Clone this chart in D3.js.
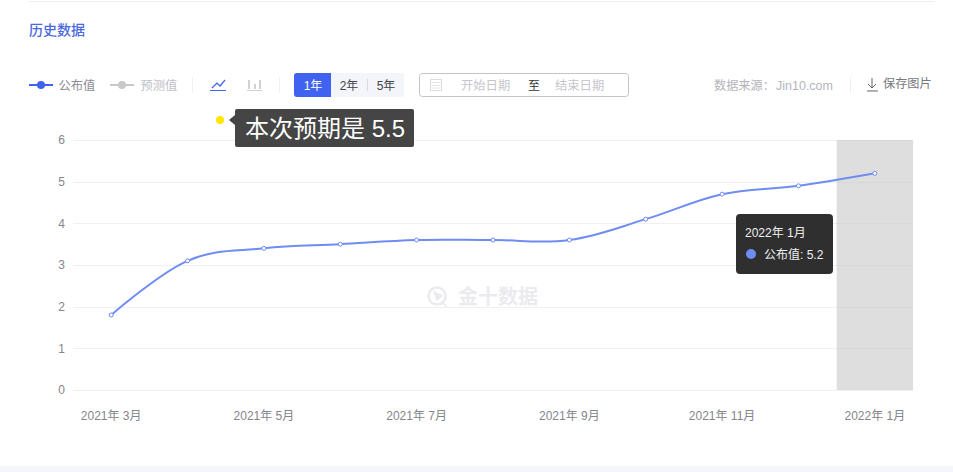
<!DOCTYPE html>
<html><head><meta charset="utf-8">
<script src="https://cdn.jsdelivr.net/npm/d3@7/dist/d3.min.js"></script>
<style>
html,body{margin:0;padding:0;background:#fff;overflow:hidden}
svg{display:block}
text{font-family:"Liberation Sans","Noto Sans CJK SC",sans-serif}
</style></head><body>
<svg id="c" width="953" height="472"></svg>
<script>
const months=["2021年 3月","2021年 4月","2021年 5月","2021年 6月","2021年 7月","2021年 8月","2021年 9月","2021年 10月","2021年 11月","2021年 12月","2022年 1月"];
const published=[1.8,3.1,3.4,3.5,3.6,3.6,3.6,4.1,4.7,4.9,5.2];
const yTicks=[0,1,2,3,4,5,6];
const xTickLabels=["2021年 3月","2021年 5月","2021年 7月","2021年 9月","2021年 11月","2022年 1月"];
const rangeButtons=["1年","2年","5年"];
const legendNames=["公布值","预测值"];

const svg=d3.select("#c");
const x=d3.scaleBand().domain(months).range([73,913]);
const y=d3.scaleLinear().domain([0,6]).range([390,140]);
const cx=m=>x(m)+x.bandwidth()/2;
const blue="#3f63f0", line="#6f8cf2";

function T(px,py,s,size,fill,anchor,extra){
  const t=svg.append("text").attr("x",px).attr("y",py).attr("font-size",size).attr("fill",fill).attr("text-anchor",anchor||"start").text(s);
  if(extra) t.attr("font-weight",extra);
  return t;
}
// page frame
svg.append("rect").attr("x",28).attr("y",1).attr("width",907).attr("height",1).attr("fill","#f0f0f2");
svg.append("rect").attr("x",0).attr("y",466).attr("width",953).attr("height",6).attr("fill","#f5f6fb");
T(29,35,"历史数据",14,"#4a68e0",null,500);

// legend
svg.append("line").attr("x1",29).attr("x2",53).attr("y1",85).attr("y2",85).attr("stroke",blue).attr("stroke-width",2);
svg.append("circle").attr("cx",41).attr("cy",85).attr("r",4).attr("fill",blue);
T(58.5,90,legendNames[0],12.3,"#8c8c94");
svg.append("line").attr("x1",110).attr("x2",134).attr("y1",85).attr("y2",85).attr("stroke","#c8c8c8").attr("stroke-width",2);
svg.append("circle").attr("cx",122).attr("cy",85).attr("r",4).attr("fill","#c8c8c8");
T(140.5,90,legendNames[1],12.3,"#c0c0c6");
[192,279,850].forEach(px=>svg.append("rect").attr("x",px).attr("y",77).attr("width",1).attr("height",16).attr("fill","#f0f0f2"));

// line / bar toggle icons
svg.append("path").attr("d","M212 88 L217 83 L220 86 L225 80").attr("fill","none").attr("stroke",blue).attr("stroke-width",1.2);
svg.append("rect").attr("x",210).attr("y",90).attr("width",16).attr("height",1).attr("fill",blue);
[[248,9],[254,5],[259,9]].forEach(d=>svg.append("rect").attr("x",d[0]).attr("y",89-d[1]).attr("width",2).attr("height",d[1]).attr("fill","#d0d2d8"));
svg.append("rect").attr("x",247).attr("y",90).attr("width",15).attr("height",1).attr("fill","#d0d2d8");

// range buttons
svg.append("rect").attr("x",294).attr("y",73).attr("width",110).attr("height",24).attr("rx",3).attr("fill","#f3f5fa");
svg.append("path").attr("d","M331 73 H297 a3 3 0 0 0 -3 3 V94 a3 3 0 0 0 3 3 H331 Z").attr("fill",blue);
[[313,"#fff"],[349,"#44444c"],[386,"#44444c"]].forEach((d,i)=>T(d[0],90,rangeButtons[i],12,d[1],"middle"));
svg.append("rect").attr("x",367).attr("y",79).attr("width",1).attr("height",12).attr("fill","#d8dae2");

// date box
svg.append("rect").attr("x",419.5).attr("y",73.5).attr("width",209).attr("height",23).attr("rx",3).attr("fill","#fff").attr("stroke","#c4c4c8");
svg.append("rect").attr("x",430.5).attr("y",79.5).attr("width",11).attr("height",11).attr("fill","none").attr("stroke","#dcdce0");
svg.append("path").attr("d","M430 82.5 H442 M432 85.5 H440 M432 88 H440").attr("stroke","#e4e4e8").attr("fill","none");
T(461,90,"开始日期",12.3,"#c6c6cc");
T(528,90,"至",12,"#333");
T(555,90,"结束日期",12.3,"#c6c6cc");
T(714,90,"数据来源：",12.2,"#b4b4ba");
T(776,90,"Jin10.com",12.5,"#b4b4ba");
svg.append("path").attr("d","M872 78 V88 M868 84 L872 88 L876 84 M867 91 H878").attr("fill","none").attr("stroke","#666");
T(883,88,"保存图片",12.2,"#77777e");

// grid + axis
svg.append("g").selectAll("line").data(yTicks).join("line")
  .attr("x1",73).attr("x2",913).attr("y1",d=>Math.round(y(d))+.5).attr("y2",d=>Math.round(y(d))+.5)
  .attr("stroke","#f0f0f2");
const yAxis=d3.axisLeft(y).tickValues(yTicks).tickFormat(d3.format("d")).tickSize(0).tickPadding(8);
const yG=svg.append("g").attr("transform","translate(73,0)").call(yAxis);
yG.select(".domain").remove();
yG.selectAll("text").attr("font-size",12).attr("fill","#85858c").style("font-family",'"Liberation Sans","Noto Sans CJK SC",sans-serif');

const xAxis=d3.axisBottom(x).tickValues(xTickLabels).tickSize(0).tickPadding(21);
const xG=svg.append("g").attr("transform","translate(0,390)").call(xAxis);
xG.select(".domain").remove();
xG.selectAll("text").attr("font-size",12).attr("fill","#85858c").style("font-family",'"Liberation Sans","Noto Sans CJK SC",sans-serif');

// hover band
const last=months[months.length-1];
svg.append("rect").attr("x",x(last)).attr("y",140).attr("width",x.bandwidth()).attr("height",250).attr("fill","#c8c8c8").attr("opacity",.6);

// watermark
const wm=svg.append("g");
wm.append("circle").attr("cx",437).attr("cy",296).attr("r",8.5).attr("fill","none").attr("stroke","#ebebef").attr("stroke-width",2.5);
wm.append("path").attr("d","M434 292 L442 296 L437 300 Z M443 303 L447 307").attr("fill","#ebebef").attr("stroke","#ebebef").attr("stroke-width",1.5);
T(458,304,"金十数据",20,"#ebebef",null,700);

// series
const lineGen=d3.line().x((d,i)=>cx(months[i])).y(d=>y(d)).curve(d3.curveCardinal.tension(-.1));
svg.append("path").datum(published).attr("d",lineGen).attr("fill","none").attr("stroke",line).attr("stroke-width",2);
svg.append("g").selectAll("circle").data(published).join("circle")
  .attr("cx",(d,i)=>cx(months[i])).attr("cy",d=>y(d)).attr("r",2).attr("fill","#fff").attr("stroke",line).attr("stroke-width",1);

// yellow dot + note
svg.append("circle").attr("cx",220).attr("cy",120).attr("r",4).attr("fill","#ffe600");
svg.append("path").attr("d","M235 115 L229 120 L235 125 Z").attr("fill","#454545");
svg.append("rect").attr("x",235).attr("y",109).attr("width",179).attr("height",38).attr("rx",2).attr("fill","#454545");
T(245,137,"本次预期是 5.5",24,"#fff");

// tooltip
svg.append("rect").attr("x",736).attr("y",214).attr("width",97).attr("height",60).attr("rx",4).attr("fill","#2f2f2f");
T(745,237,months[months.length-1],12,"#f0f0f0");
svg.append("circle").attr("cx",751).attr("cy",254).attr("r",5).attr("fill",line);
T(764,259,legendNames[0]+": "+published[published.length-1],12,"#f0f0f0");
</script></body></html>
